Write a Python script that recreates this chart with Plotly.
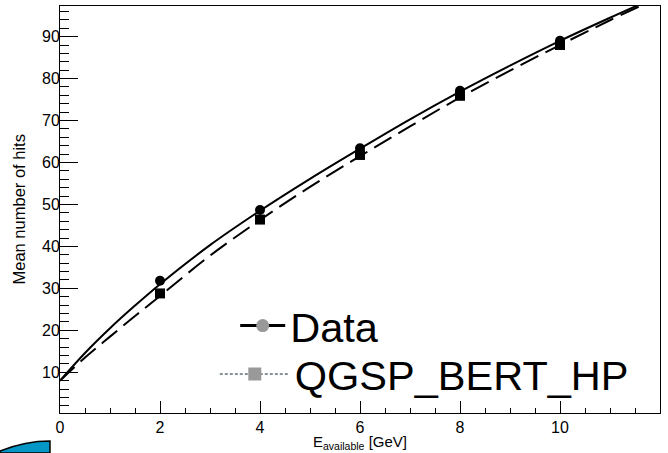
import plotly.graph_objects as go

# Beam energies and measured / simulated mean hit counts
energy = [2, 4, 6, 8, 10]
data_hits = [31.8, 48.7, 63.4, 77.1, 89.0]
mc_hits = [28.8, 46.4, 61.8, 75.9, 88.0]

# Fit curves sampled along the energy axis
fit_x = [0, 0.5, 1, 1.5, 2, 3, 4, 5, 6, 7, 8, 9, 10, 11, 12]
fit_data = [8.0, 14.6, 20.5, 25.9, 31.0, 40.3, 48.5, 56.1, 63.3, 70.3, 76.9, 83.1, 89.0, 94.5, 99.8]
fit_mc = [8.0, 13.5, 18.5, 23.4, 28.2, 37.8, 46.3, 54.2, 61.5, 68.6, 75.5, 81.9, 88.0, 93.9, 99.5]

FONT = "Liberation Sans, Arial, Helvetica, sans-serif"

fig = go.Figure()

fig.add_trace(go.Scatter(x=fit_x, y=fit_data, mode="lines", line=dict(color="black", width=2, shape="spline"),
                         showlegend=False, hoverinfo="skip"))
fig.add_trace(go.Scatter(x=fit_x, y=fit_mc, mode="lines",
                         line=dict(color="black", width=2, dash="20px,8px", shape="spline"),
                         showlegend=False, hoverinfo="skip"))
fig.add_trace(go.Scatter(x=energy, y=data_hits, mode="markers",
                         marker=dict(symbol="circle", size=10, color="black"), showlegend=False))
fig.add_trace(go.Scatter(x=energy, y=mc_hits, mode="markers",
                         marker=dict(symbol="square", size=10, color="black"), showlegend=False))

# Legend entries, one legend box each
fig.add_trace(go.Scatter(x=[None], y=[None], mode="lines+markers", name="Data", legend="legend",
                         line=dict(color="black", width=3),
                         marker=dict(symbol="circle", size=13, color="#999999")))
fig.add_trace(go.Scatter(x=[None], y=[None], mode="lines+markers", name="QGSP_BERT_HP", legend="legend2",
                         line=dict(color="#0d2a33", width=1, dash="3px,2px"),
                         marker=dict(symbol="square", size=13, color="#999999")))

axis_common = dict(showgrid=False, zeroline=False, showline=True, linecolor="black", linewidth=1,
                   mirror=True, ticks="inside", tickcolor="black", tickwidth=1,
                   tickfont=dict(family=FONT, size=16, color="black"))

fig.update_xaxes(range=[0, 12], dtick=2, tick0=0, ticklen=12,
                 minor=dict(ticks="inside", ticklen=5, dtick=0.5, tickcolor="black"),
                 **axis_common)
fig.update_yaxes(range=[0.3, 97.3], dtick=10, tick0=0, ticklen=18, ticklabelstandoff=-4,
                 minor=dict(ticks="inside", ticklen=9, dtick=2, tickcolor="black"),
                 **axis_common)

fig.add_annotation(text="Mean number of hits", xref="paper", yref="paper", x=-0.07, y=0.5,
                   textangle=-90, showarrow=False, xanchor="center", yanchor="middle",
                   font=dict(family=FONT, size=16.5, color="black"))
fig.add_annotation(text="E<sub>available</sub> [GeV]", xref="paper", yref="paper", x=0.5, y=-0.072,
                   showarrow=False, xanchor="center", yanchor="middle",
                   font=dict(family=FONT, size=15, color="black"))

# Partial logo disc in the lower-left corner
fig.add_shape(type="path", xref="paper", yref="paper",
              path="M -0.1,-0.0983 L -0.1,-0.0934 Q -0.058,-0.0688 -0.0167,-0.0688 L -0.0167,-0.0983 Z",
              fillcolor="#0596c6", line=dict(color="black", width=1.5), layer="above")

legend_font = dict(family=FONT, size=41.5, color="black")
fig.update_layout(
    width=668, height=453,
    margin=dict(l=60, r=8, t=6, b=40),
    paper_bgcolor="white", plot_bgcolor="white",
    font=dict(family=FONT, color="black"),
    legend=dict(x=0.292, y=0.297, xanchor="left", yanchor="top", bgcolor="rgba(0,0,0,0)",
                font=legend_font, itemwidth=45),
    legend2=dict(x=0.258, y=0.178, xanchor="left", yanchor="top", bgcolor="rgba(0,0,0,0)",
                 font=legend_font, itemwidth=70),
)

fig.write_html("out.html")
